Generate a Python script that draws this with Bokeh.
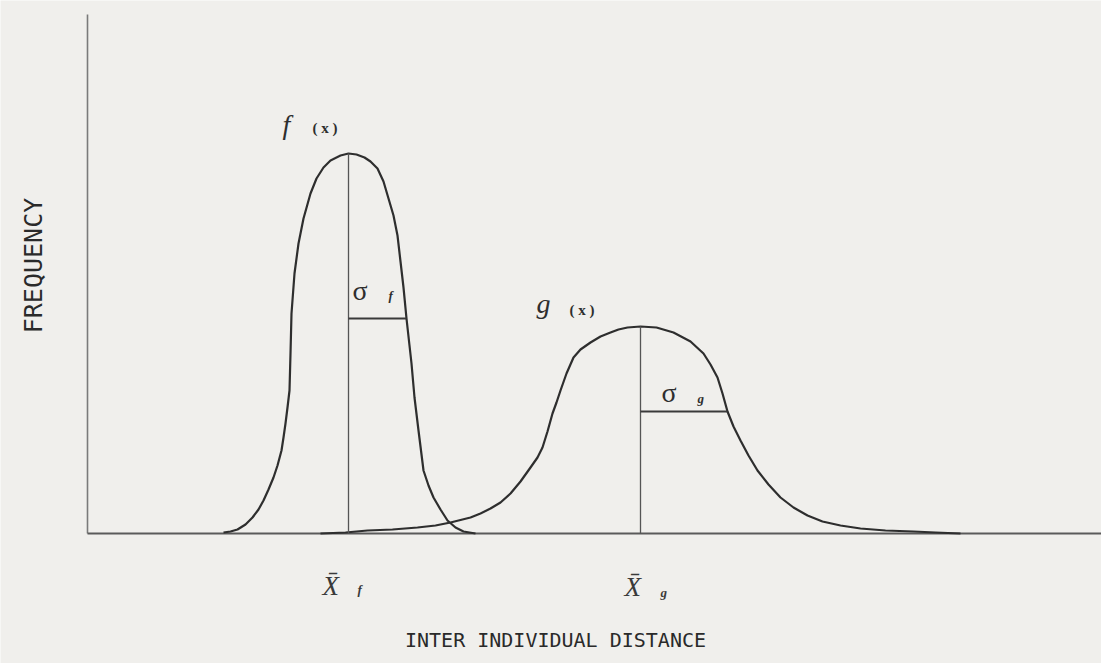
from bokeh.plotting import figure
from bokeh.models import Range1d
from bokeh.core.properties import value
from bokeh.embed import file_html
from bokeh.resources import INLINE
import math

# Frequency curve f(x): distance and frequency height above the baseline
f_x = [223, 230, 237, 245, 252, 258, 263, 268, 273, 277, 281, 283, 285, 287, 289, 290, 291,
       294, 298, 303, 310, 316, 323, 330, 340, 348,
       356, 364, 370, 377, 383, 388, 393, 397, 400, 403, 406, 409, 411, 414, 418, 423,
       428, 433, 440, 447, 455, 463, 475]
f_y = [1, 2, 4, 9, 16, 24, 33, 44, 56, 68, 83, 96, 110, 126, 143, 180, 220,
       260, 290, 315, 340, 355, 366, 373, 378, 380,
       379, 376, 372, 365, 352, 335, 318, 298, 272, 246, 215, 188, 170, 136, 103, 63,
       48, 36, 24, 13, 6, 2, 0]

# Frequency curve g(x)
g_x = [320, 345, 367, 392, 417, 435, 450, 462, 470, 480, 490, 500, 510, 520, 530, 537,
       542, 547, 552, 556, 560, 566, 573, 580, 590, 600, 610, 618, 627, 640,
       656, 673, 690, 703, 710, 717, 722, 727, 733, 740, 748, 757, 768, 780, 793, 807,
       822, 840, 860, 885, 913, 935, 960]
g_y = [0, 1, 3, 4, 6, 8, 11, 14, 16, 20, 25, 31, 40, 52, 66, 76,
       86, 102, 120, 131, 143, 160, 176, 184, 191, 197, 201, 204, 206, 207,
       206, 201, 192, 180, 169, 156, 140, 122, 107, 93, 78, 63, 49, 36, 26, 18,
       12, 8, 5, 3, 2, 1, 0]

# Means and standard deviations of the two distributions
f_mean, f_peak, f_sigma, f_sigma_h = 348, 380, 58, 215
g_mean, g_peak, g_sigma, g_sigma_h = 640, 207, 87, 122

# Axis extents
x_start, x_end = 87, 1101
y_top = 519

BG = "#f0efec"
INK = "#2e2e2e"
SERIF = "Liberation Serif"
MONO = "DejaVu Sans Mono"

p = figure(width=1101, height=663, output_backend="svg", toolbar_location=None,
           x_range=Range1d(0, 1101), y_range=Range1d(-130, 533),
           x_axis_location=None, y_axis_location=None, min_border=0)
p.grid.visible = False
p.outline_line_color = None
p.background_fill_color = BG
p.border_fill_color = BG

# axes
p.line([x_start, x_start], [0, y_top], line_color="#7a7a7a", line_width=1.6)
p.line([x_start, x_end], [0, 0], line_color="#5a5a5a", line_width=2)

# curves
p.line(f_x, f_y, line_color=INK, line_width=2.2, line_join="round")
p.line(g_x, g_y, line_color=INK, line_width=2.2, line_join="round")

# mean lines and sigma bars
p.segment(x0=[f_mean, g_mean], y0=[0, 0], x1=[f_mean, g_mean], y1=[f_peak, g_peak],
          line_color="#555555", line_width=1.3)
p.segment(x0=[f_mean, g_mean], y0=[f_sigma_h, g_sigma_h],
          x1=[f_mean + f_sigma, g_mean + g_sigma], y1=[f_sigma_h, g_sigma_h],
          line_color="#3a3a3a", line_width=1.8)

# curve names
p.text(x=[f_mean - 66, g_mean - 104], y=[409, 230], text=["f", "g"],
       text_font=value(SERIF), text_font_style="italic", text_font_size="28px",
       text_color=INK, text_baseline="alphabetic")
p.text(x=[f_mean - 36, g_mean - 71], y=[406, 224], text=["( x )", "( x )"],
       text_font=value(SERIF), text_font_style="bold", text_font_size="15px",
       text_color=INK, text_baseline="alphabetic")

# sigma labels
p.text(x=[f_mean + 4, g_mean + 21], y=[243, 141], text=["σ", "σ"],
       text_font=value(SERIF), text_font_size="28px", text_color=INK,
       text_baseline="alphabetic")
p.text(x=[f_mean + 40, g_mean + 57], y=[238, 135], text=["f", "g"],
       text_font=value(SERIF), text_font_style="bold italic", text_font_size="13px",
       text_color=INK, text_baseline="alphabetic")

# mean labels on the distance axis
p.text(x=[f_mean - 26, g_mean - 16], y=[-52, -53], text=["X\u0304", "X\u0304"],
       text_font=value(SERIF), text_font_style="italic", text_font_size="27px",
       text_color="#3a3a3a", text_baseline="alphabetic")
p.text(x=[f_mean + 9, g_mean + 20], y=[-56, -59], text=["f", "g"],
       text_font=value(SERIF), text_font_style="bold italic", text_font_size="13px",
       text_color="#3a3a3a", text_baseline="alphabetic")

# axis titles
p.text(x=[555], y=[-106], text=["INTER INDIVIDUAL DISTANCE"],
       text_font=value(MONO), text_font_size="20px", text_color="#2a2a2a",
       text_align="center", text_baseline="alphabetic")
p.text(x=[33], y=[268], text=["FREQUENCY"], angle=math.pi / 2,
       text_font=value(MONO), text_font_size="25px", text_color="#2a2a2a",
       text_align="center", text_baseline="alphabetic")

open("out.html", "w").write(file_html(p, INLINE))
